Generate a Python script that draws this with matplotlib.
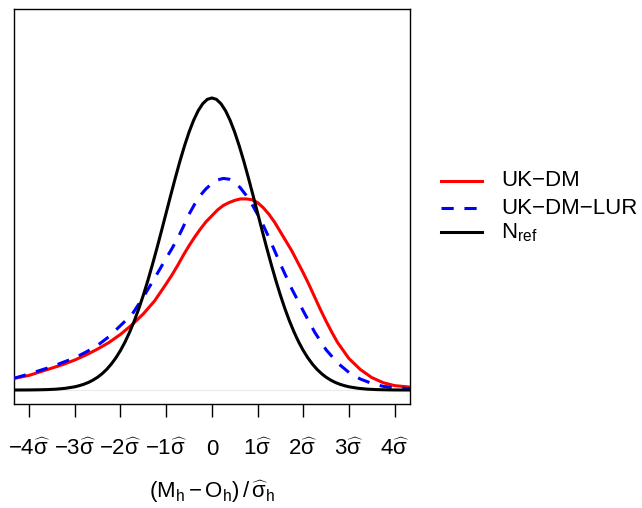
import matplotlib.pyplot as plt
from matplotlib.lines import Line2D

plt.rcParams['font.family'] = ['Liberation Sans', 'DejaVu Sans']
plt.rcParams['mathtext.fontset'] = 'custom'
plt.rcParams['mathtext.rm'] = 'Liberation Sans'
plt.rcParams['mathtext.it'] = 'Liberation Sans'
plt.rcParams['mathtext.bf'] = 'Liberation Sans:bold'

# ----------------------------
# Data
# ----------------------------

x_dm = [-4.33, -4.0, -3.75, -3.5, -3.25, -3.0, -2.75, -2.5, -2.25, -2.0, -1.75, -1.5, -1.25,
        -1.0, -0.875, -0.75, -0.625, -0.5, -0.375, -0.25, -0.125, 0.0, 0.125, 0.25, 0.375,
        0.5, 0.625, 0.75, 0.875, 1.0, 1.125, 1.25, 1.375, 1.5, 1.625, 1.75, 1.875, 2.0,
        2.125, 2.25, 2.375, 2.5, 2.625, 2.75, 3.0, 3.25, 3.5, 3.75, 4.0, 4.33]
uk_dm = [0.016, 0.020, 0.025, 0.030, 0.035, 0.041, 0.048, 0.056, 0.065, 0.076, 0.089, 0.104, 0.122,
         0.145, 0.157, 0.170, 0.184, 0.197, 0.209, 0.220, 0.230, 0.238, 0.246, 0.252, 0.256,
         0.259, 0.261, 0.261, 0.260, 0.256, 0.249, 0.240, 0.229, 0.216, 0.203, 0.190, 0.175, 0.160,
         0.144, 0.127, 0.110, 0.094, 0.079, 0.065, 0.043, 0.028, 0.017, 0.010, 0.006, 0.004]

x_lur = [-4.33, -4.0, -3.75, -3.5, -3.25, -3.0, -2.75, -2.5, -2.25, -2.0, -1.75, -1.5, -1.25,
         -1.0, -0.875, -0.75, -0.625, -0.5, -0.375, -0.25, -0.125, 0.0, 0.125, 0.25, 0.375,
         0.5, 0.625, 0.75, 0.875, 1.0, 1.125, 1.25, 1.375, 1.5, 1.625, 1.75, 1.875, 2.0,
         2.25, 2.5, 2.75, 3.0, 3.25, 3.5, 3.75, 4.0, 4.33]
uk_dm_lur = [0.016, 0.022, 0.027, 0.032, 0.038, 0.044, 0.052, 0.061, 0.073, 0.088, 0.103, 0.127, 0.153,
             0.180, 0.193, 0.207, 0.223, 0.240, 0.254, 0.266, 0.275, 0.282, 0.287, 0.289, 0.288,
             0.284, 0.276, 0.266, 0.254, 0.240, 0.225, 0.208, 0.190, 0.172, 0.155, 0.138, 0.123, 0.108,
             0.079, 0.055, 0.037, 0.024, 0.015, 0.009, 0.005, 0.003, 0.002]

x_ref = [-4.33, -4.0, -3.8, -3.6, -3.4, -3.2, -3.0, -2.9, -2.8, -2.7, -2.6, -2.5, -2.4, -2.3,
         -2.2, -2.1, -2.0, -1.9, -1.8, -1.7, -1.6, -1.5, -1.4, -1.3, -1.2, -1.1, -1.0, -0.9,
         -0.8, -0.7, -0.6, -0.5, -0.4, -0.3, -0.2, -0.1, 0.0, 0.1, 0.2, 0.3, 0.4, 0.5, 0.6,
         0.7, 0.8, 0.9, 1.0, 1.1, 1.2, 1.3, 1.4, 1.5, 1.6, 1.7, 1.8, 1.9, 2.0, 2.1, 2.2, 2.3,
         2.4, 2.5, 2.6, 2.7, 2.8, 2.9, 3.0, 3.2, 3.4, 3.6, 3.8, 4.0, 4.33]
n_ref = [0.00003, 0.0001, 0.0003, 0.0006, 0.0012, 0.0024, 0.0044, 0.0060, 0.0079, 0.0104, 0.0136,
         0.0175, 0.0224, 0.0283, 0.0355, 0.0440, 0.0540, 0.0656, 0.0790, 0.0940, 0.1109, 0.1295,
         0.1497, 0.1714, 0.1942, 0.2179, 0.2420, 0.2661, 0.2897, 0.3123, 0.3332, 0.3521, 0.3683,
         0.3814, 0.3910, 0.3970, 0.3989, 0.3970, 0.3910, 0.3814, 0.3683, 0.3521, 0.3332, 0.3123,
         0.2897, 0.2661, 0.2420, 0.2179, 0.1942, 0.1714, 0.1497, 0.1295, 0.1109, 0.0940, 0.0790,
         0.0656, 0.0540, 0.0440, 0.0355, 0.0283, 0.0224, 0.0175, 0.0136, 0.0104, 0.0079, 0.0060,
         0.0044, 0.0024, 0.0012, 0.0006, 0.0003, 0.0001, 0.00003]

tick_pos = [-4, -3, -2, -1, 0, 1, 2, 3, 4]
tick_labels = [r'$-4\widehat{\sigma}$', r'$-3\widehat{\sigma}$', r'$-2\widehat{\sigma}$',
               r'$-1\widehat{\sigma}$', '0', r'$1\widehat{\sigma}$', r'$2\widehat{\sigma}$',
               r'$3\widehat{\sigma}$', r'$4\widehat{\sigma}$']

series_names = ['UK\u2212DM', 'UK\u2212DM\u2212LUR', r'N$_{\rm ref}$']

# ----------------------------
# Plot
# ----------------------------

fig = plt.figure(figsize=(6.42, 5.08), dpi=100)
ax = fig.add_axes([0.0218, 0.2047, 0.6164, 0.777])

ax.axhline(0, color='#ebebeb', lw=0.8, zorder=1)
ax.plot(x_dm, uk_dm, color='#ff0000', lw=2.2, zorder=3)
ax.plot(x_lur, uk_dm_lur, color='#0000ff', lw=2.2, dashes=(4, 3.5), zorder=3)
ax.plot(x_ref, n_ref, color='black', lw=2.2, zorder=4)

ax.set_xlim(-4.33, 4.33)
ax.set_ylim(-0.0191, 0.520)
ax.set_yticks([])
ax.set_xticks(tick_pos)
ax.set_xticklabels(tick_labels, fontsize=16)
ax.tick_params(axis='x', length=9, width=1, pad=16)
for s in ax.spines.values():
    s.set_linewidth(1)

ax.set_xlabel(r'$(\mathrm{M_h}-\mathrm{O_h})\,/\,\widehat{\sigma}_\mathrm{h}$', fontsize=16, labelpad=13)

# legend drawn by hand
colors = ['#ff0000', '#0000ff', 'black']
styles = [None, (4, 3.5), None]
rows_y = [180.7, 208.3, 232.3]
for name, c, st, py in zip(series_names, colors, styles, rows_y):
    fy = 1 - py / 508
    ln = Line2D([440.7 / 642, 481.7 / 642], [fy, fy], color=c, lw=2.2, transform=fig.transFigure)
    if st:
        ln.set_dashes(st)
    fig.add_artist(ln)
    fig.text(501 / 642, fy, name, fontsize=16, va='center', ha='left')

fig.savefig('out.png', dpi=100)
